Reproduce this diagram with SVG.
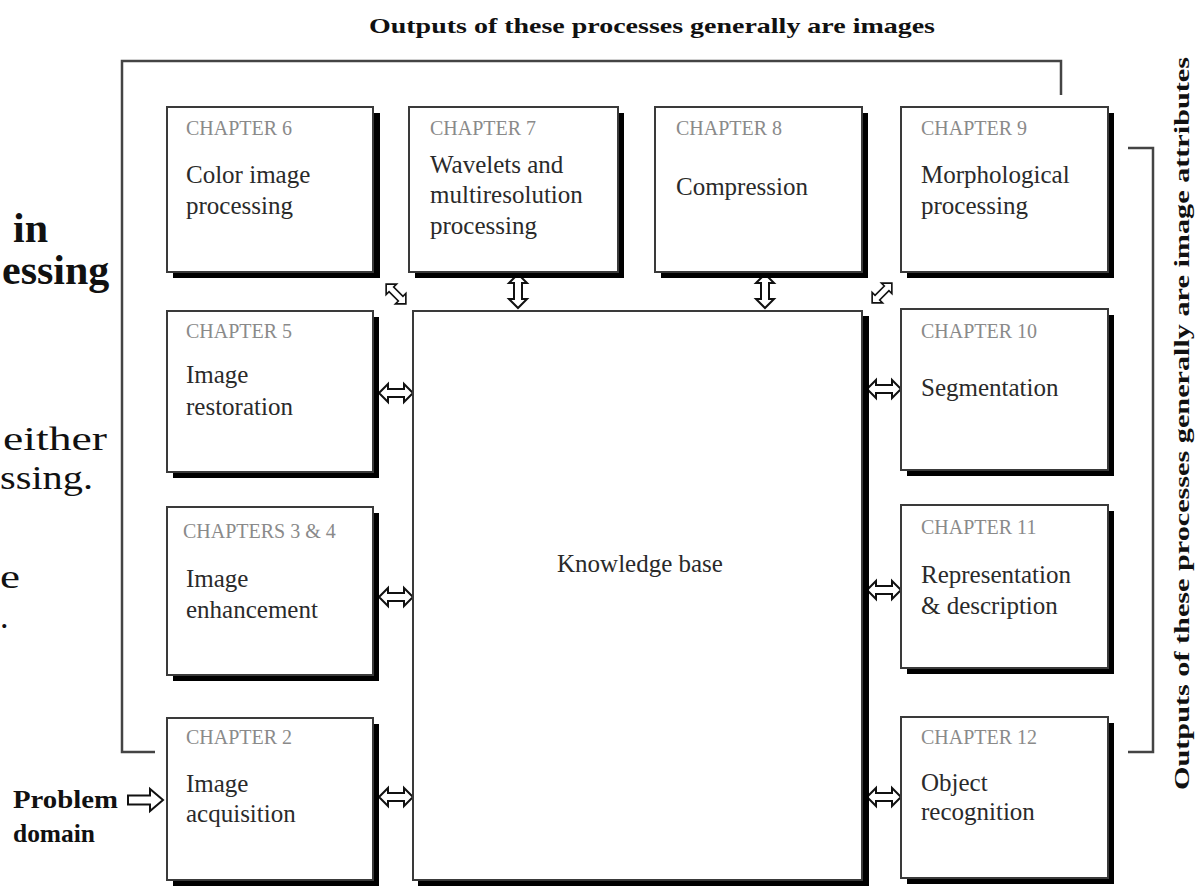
<svg xmlns="http://www.w3.org/2000/svg" width="1202" height="886" viewBox="0 0 1202 886">
<defs>
<style>
.box{fill:#fff;stroke:#3a3a3a;stroke-width:2}
.sh{fill:#000}
.lab{font-family:"Liberation Serif",serif;font-size:20px;fill:#8a8a8a}
.txt{font-family:"Liberation Serif",serif;font-size:25px;fill:#2a2a2a}
.bold{font-family:"Liberation Serif",serif;font-weight:bold;fill:#111}
.reg{font-family:"Liberation Serif",serif;fill:#111}
.ln{fill:none;stroke:#444;stroke-width:2.5}
.arr{fill:#fff;stroke:#111;stroke-width:2;stroke-linejoin:miter}
</style>
<path id="dbl" d="M-17,0 L-8,-9 L-8,-4 L8,-4 L8,-9 L17,0 L8,9 L8,4 L-8,4 L-8,9 Z"/>
</defs>
<rect width="1202" height="886" fill="#fff"/>

<!-- partial slide text on the left -->
<g id="slide-text">
<text class="bold" x="13" y="242" font-size="42">in</text>
<text class="bold" x="2" y="284" font-size="42">essing</text>
<text class="reg" x="3" y="450" font-size="34" textLength="104" lengthAdjust="spacingAndGlyphs">either</text>
<text class="reg" x="0" y="489" font-size="34" textLength="93" lengthAdjust="spacingAndGlyphs">ssing.</text>
<text class="reg" x="0" y="588" font-size="34" textLength="20" lengthAdjust="spacingAndGlyphs">e</text>
<text class="reg" x="0" y="628" font-size="34">.</text>
</g>

<!-- labels -->
<text class="bold" x="369" y="33" font-size="21" textLength="566" lengthAdjust="spacingAndGlyphs">Outputs of these processes generally are images</text>
<text class="bold" font-size="21" transform="translate(1189,790) rotate(-90)" x="0" y="0" textLength="733" lengthAdjust="spacingAndGlyphs">Outputs of these processes generally are image attributes</text>
<g id="problem-domain">
<text class="bold" x="13" y="808" font-size="25" textLength="105" lengthAdjust="spacingAndGlyphs">Problem</text>
<text class="bold" x="13" y="842" font-size="25" textLength="82" lengthAdjust="spacingAndGlyphs">domain</text>
</g>

<!-- connectors -->
<g id="connectors">
<polyline class="ln" points="155,752 122,752 122,61 1061,61 1061,95"/>
<polyline class="ln" points="1128,148 1153,148 1153,752 1128,752"/>
<path class="arr" d="M128,795.5 L150,795.5 L150,789 L163,800 L150,811 L150,804.5 L128,804.5 Z"/>
<use href="#dbl" class="arr" transform="translate(396,393)"/>
<use href="#dbl" class="arr" transform="translate(396,597)"/>
<use href="#dbl" class="arr" transform="translate(396,797)"/>
<use href="#dbl" class="arr" transform="translate(884,389)"/>
<use href="#dbl" class="arr" transform="translate(884,590)"/>
<use href="#dbl" class="arr" transform="translate(884,797)"/>
<use href="#dbl" class="arr" transform="translate(518,291) rotate(90)"/>
<use href="#dbl" class="arr" transform="translate(765,291) rotate(90)"/>
<use href="#dbl" class="arr" transform="translate(396,294) rotate(45) scale(0.82)"/>
<use href="#dbl" class="arr" transform="translate(882,293) rotate(-45) scale(0.82)"/>
</g>

<!-- nodes -->
<g id="ch6">
<rect class="sh" x="173" y="113" width="207" height="165"/>
<rect class="box" x="167" y="107" width="206" height="165"/>
<text class="lab" x="186" y="135">CHAPTER 6</text>
<text class="txt" x="186" y="183">Color image</text>
<text class="txt" x="186" y="214">processing</text>
</g>
<g id="ch7">
<rect class="sh" x="415" y="113" width="209" height="165"/>
<rect class="box" x="409" y="107" width="209" height="165"/>
<text class="lab" x="430" y="135">CHAPTER 7</text>
<text class="txt" x="430" y="173">Wavelets and</text>
<text class="txt" x="430" y="203">multiresolution</text>
<text class="txt" x="430" y="234">processing</text>
</g>
<g id="ch8">
<rect class="sh" x="661" y="113" width="207" height="165"/>
<rect class="box" x="655" y="107" width="207" height="165"/>
<text class="lab" x="676" y="135">CHAPTER 8</text>
<text class="txt" x="676" y="195">Compression</text>
</g>
<g id="ch9">
<rect class="sh" x="907" y="113" width="207" height="165"/>
<rect class="box" x="901" y="107" width="207" height="165"/>
<text class="lab" x="921" y="135">CHAPTER 9</text>
<text class="txt" x="921" y="183">Morphological</text>
<text class="txt" x="921" y="214">processing</text>
</g>
<g id="ch5">
<rect class="sh" x="173" y="317" width="206" height="161"/>
<rect class="box" x="167" y="311" width="206" height="161"/>
<text class="lab" x="186" y="338">CHAPTER 5</text>
<text class="txt" x="186" y="383">Image</text>
<text class="txt" x="186" y="415">restoration</text>
</g>
<g id="ch34">
<rect class="sh" x="173" y="513" width="206" height="168"/>
<rect class="box" x="167" y="507" width="206" height="168"/>
<text class="lab" x="183" y="538">CHAPTERS 3 &amp; 4</text>
<text class="txt" x="186" y="587">Image</text>
<text class="txt" x="186" y="618">enhancement</text>
</g>
<g id="ch2">
<rect class="sh" x="173" y="724" width="206" height="162"/>
<rect class="box" x="167" y="718" width="206" height="162"/>
<text class="lab" x="186" y="744">CHAPTER 2</text>
<text class="txt" x="186" y="792">Image</text>
<text class="txt" x="186" y="822">acquisition</text>
</g>
<g id="knowledge-base">
<rect class="sh" x="418" y="316" width="451" height="572"/>
<rect class="box" x="413" y="311" width="449" height="569"/>
<text class="txt" x="640" y="572" text-anchor="middle">Knowledge base</text>
</g>
<g id="ch10">
<rect class="sh" x="907" y="315" width="207" height="161"/>
<rect class="box" x="901" y="309" width="207" height="161"/>
<text class="lab" x="921" y="338">CHAPTER 10</text>
<text class="txt" x="921" y="396">Segmentation</text>
</g>
<g id="ch11">
<rect class="sh" x="907" y="511" width="207" height="163"/>
<rect class="box" x="901" y="505" width="207" height="163"/>
<text class="lab" x="921" y="534">CHAPTER 11</text>
<text class="txt" x="921" y="583">Representation</text>
<text class="txt" x="921" y="614">&amp; description</text>
</g>
<g id="ch12">
<rect class="sh" x="907" y="723" width="207" height="161"/>
<rect class="box" x="901" y="717" width="207" height="161"/>
<text class="lab" x="921" y="744">CHAPTER 12</text>
<text class="txt" x="921" y="791">Object</text>
<text class="txt" x="921" y="820">recognition</text>
</g>
</svg>
